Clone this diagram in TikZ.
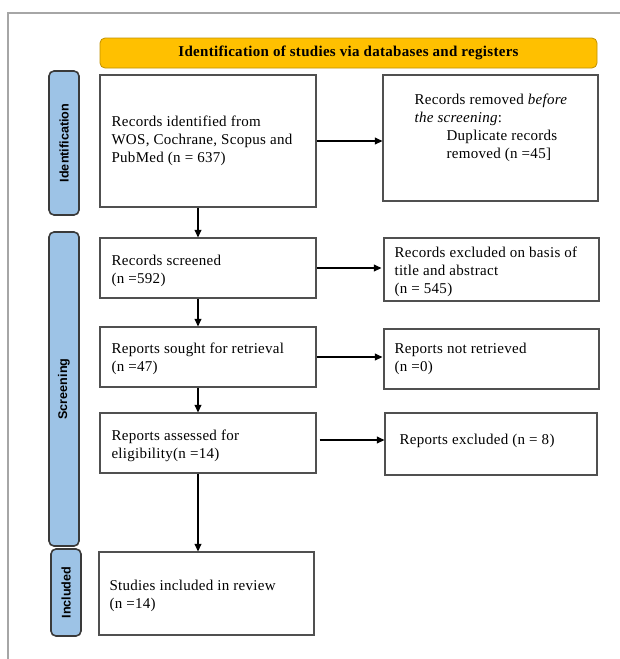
\documentclass[tikz,border=0pt]{standalone}
\usepackage{fontspec}
\setmainfont{Liberation Serif}[LetterSpace=2]
\newfontfamily\sidefont{Liberation Sans}
\usetikzlibrary{arrows.meta}
\definecolor{framegray}{HTML}{A6A6A6}
\definecolor{boxgray}{HTML}{505050}
\definecolor{bannerfill}{HTML}{FFC000}
\definecolor{bannerdraw}{HTML}{C09000}
\definecolor{sidefill}{HTML}{9DC3E6}
\definecolor{sidedraw}{HTML}{3A3A3A}
\begin{document}
\begin{tikzpicture}[x=1pt,y=-1pt,
  box/.style={draw=boxgray, line width=1.3pt, fill=white, rectangle, inner sep=0pt},
  txt/.style={anchor=west, align=left, inner sep=0pt, font=\fontsize{15}{18}\selectfont},
  side/.style={draw=sidedraw, line width=1.6pt, fill=sidefill, rounded corners=5pt, inner sep=0pt, minimum width=30pt},
  sidetxt/.style={rotate=90, inner sep=0pt, font=\sidefont\bfseries\fontsize{12.6}{14}\selectfont},
  arr/.style={draw=black, line width=1.1pt, -{Triangle[length=7.5pt,width=7pt]}}
]
\useasboundingbox (0,0) rectangle (619,659);
% outer frame
\draw[framegray, line width=1.2pt] (8,665) -- (8,13) -- (625,13);
% banner
\node[draw=bannerdraw, line width=0.8pt, fill=bannerfill, rounded corners=5pt,
      minimum width=497pt, minimum height=30pt, inner sep=0pt,
      font=\bfseries\fontsize{15}{16}\selectfont] (banner) at (348.5,53)
      {Identification of studies via databases and registers};
% side labels
\node[side, minimum height=144pt] (sid) at (64,143) {};
\node[sidetxt] (sidt) at (sid.center) {Identification};
\node[side, minimum height=314pt] (sscr) at (64,389) {};
\node[sidetxt] (sscrt) at (sscr.center) {Screening};
\node[side, minimum height=87pt] (sinc) at (66,592.5) {};
\node[sidetxt] (sinct) at (sinc.center) {Included};
% boxes
\node[box, minimum width=216pt, minimum height=132pt] (b1) at (208,141) {};
\node[txt] (t1) at ([xshift=12pt]b1.west) {Records identified from\\WOS, Cochrane, Scopus and\\PubMed (n = 637)};
\node[box, minimum width=215pt, minimum height=126pt] (b2) at (490.5,138) {};
\node[txt] (t2) at ([xshift=32pt,yshift=10pt]b2.west) {Records removed \textit{before}\\\textit{the screening}:\\\hspace*{32pt}Duplicate records\\\hspace*{32pt}removed (n =45]};
\node[box, minimum width=216pt, minimum height=60pt] (b3) at (208,268) {};
\node[txt] (t3) at ([xshift=12pt,yshift=-2.5pt]b3.west) {Records screened\\(n =592)};
\node[box, minimum width=215pt, minimum height=63pt] (b4) at (491.5,269.5) {};
\node[txt] (t4) at ([xshift=11pt,yshift=-2pt]b4.west) {Records excluded on basis of\\title and abstract\\(n = 545)};
\node[box, minimum width=216pt, minimum height=60pt] (b5) at (208,357) {};
\node[txt] (t5) at ([xshift=12pt,yshift=-2pt]b5.west) {Reports sought for retrieval\\(n =47)};
\node[box, minimum width=215pt, minimum height=60pt] (b6) at (491.5,359) {};
\node[txt] (t6) at ([xshift=11pt]b6.west) {Reports not retrieved\\(n =0)};
\node[box, minimum width=216pt, minimum height=60pt] (b7) at (208,443) {};
\node[txt] (t7) at ([xshift=12pt,yshift=-2.5pt]b7.west) {Reports assessed for\\eligibility(n =14)};
\node[box, minimum width=212pt, minimum height=62pt] (b8) at (491,444) {};
\node[txt] (t8) at ([xshift=15pt,yshift=3pt]b8.west) {Reports excluded (n = 8)};
\node[box, minimum width=215pt, minimum height=83pt] (b9) at (206.5,593.5) {};
\node[txt] (t9) at ([xshift=11pt,yshift=-2pt]b9.west) {Studies included in review\\(n =14)};
% connectors
\coordinate (ax) at (198,0);
\draw[arr] (b1.south -| ax) -- (b3.north -| ax);
\draw[arr] (b3.south -| ax) -- (b5.north -| ax);
\draw[arr] (b5.south -| ax) -- (b7.north -| ax);
\draw[arr] (b7.south -| ax) -- (b9.north -| ax);
\draw[arr] (b1.east) -- (b1.east -| b2.west);
\draw[arr] (b3.east) -- ([xshift=-2pt]b3.east -| b4.west);
\draw[arr] (b5.east) -- ([xshift=-1pt]b5.east -| b6.west);
\draw[arr] ([xshift=3pt,yshift=3pt]b7.east) -- ([yshift=3pt]b7.east -| b8.west);
\end{tikzpicture}
\end{document}
